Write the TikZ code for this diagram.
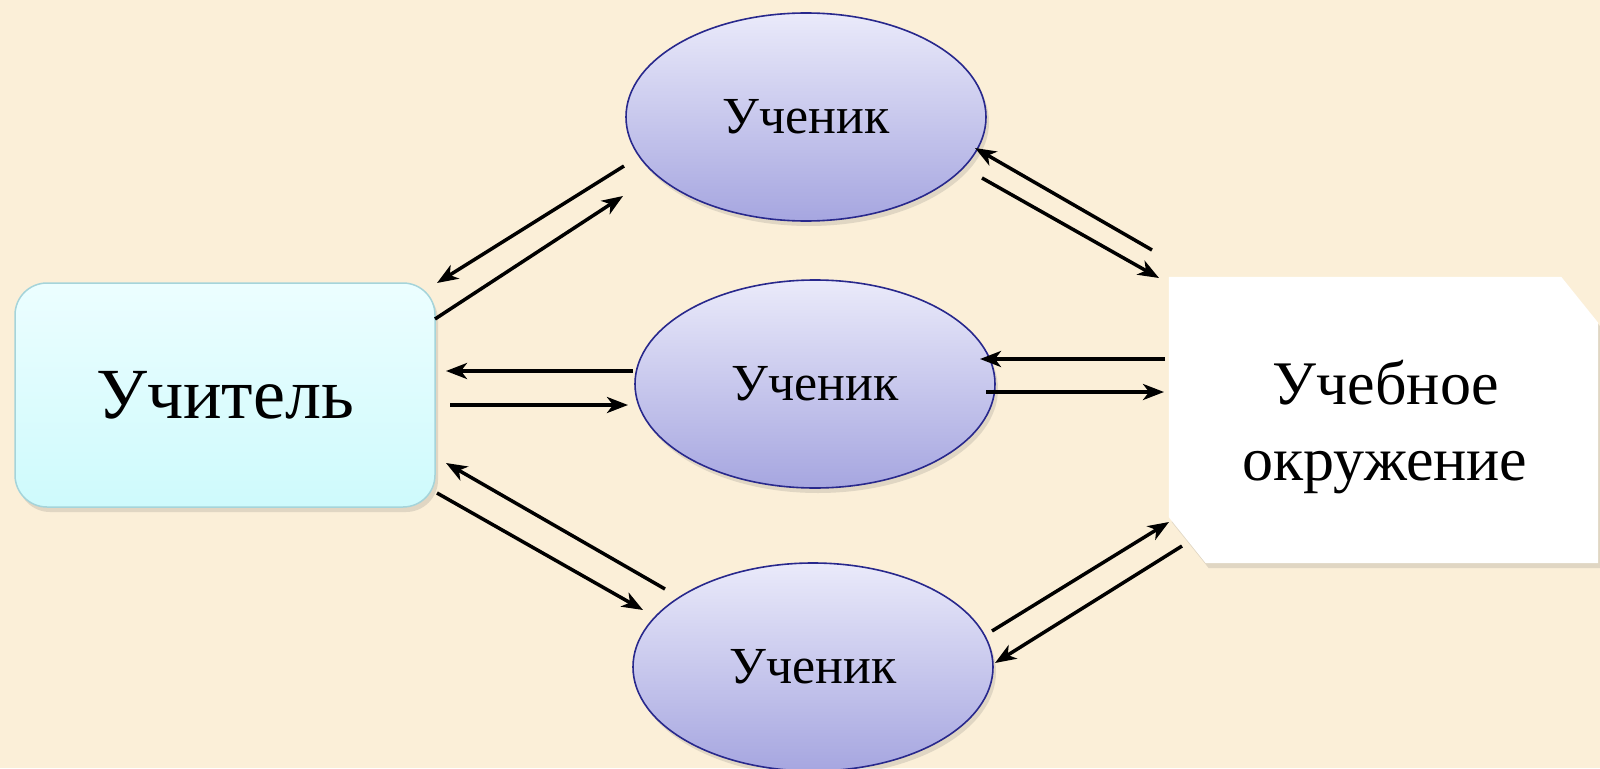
\documentclass[tikz,border=0pt]{standalone}
\usepackage{fontspec}
\setmainfont{Liberation Serif}
\usetikzlibrary{shapes.geometric,arrows.meta,shadows,calc}
\definecolor{bgc}{RGB}{251,239,216}
\definecolor{elltop}{RGB}{234,234,250}
\definecolor{ellbot}{RGB}{166,166,224}
\definecolor{elldraw}{RGB}{40,40,140}
\definecolor{tchtop}{RGB}{236,254,255}
\definecolor{tchbot}{RGB}{206,250,252}
\definecolor{tchdraw}{RGB}{165,212,218}
\begin{document}
\begin{tikzpicture}[x=1pt,y=-1pt,
  arr/.style={line width=3.5pt,-{Stealth[length=21pt,width=16pt,inset=6pt]}},
  softshadow/.style={drop shadow={opacity=0.18,shadow xshift=3pt,shadow yshift=-5pt,fill=black!60}},
  pupil/.style={ellipse,draw=elldraw,line width=1.6pt,minimum width=360pt,minimum height=208pt,
    inner sep=0pt,top color=elltop,bottom color=ellbot,softshadow,font=\fontsize{52}{60}\selectfont},
  teacher/.style={rectangle,rounded corners=32pt,draw=tchdraw,line width=1.5pt,minimum width=420pt,
    minimum height=224pt,top color=tchtop,bottom color=tchbot,softshadow,font=\fontsize{72}{80}\selectfont},
  envframe/.style={rectangle,minimum width=429pt,minimum height=286pt,inner sep=0pt},
  envtext/.style={anchor=base,font=\fontsize{62}{76}\selectfont,inner sep=0pt}
]
\fill[bgc] (0,0) rectangle (1600,768);
\useasboundingbox (0,0) rectangle (1600,768);

\node[teacher] (t) at (225,395) {Учитель};
\node[pupil] (p1) at (806,117) {Ученик};
\node[pupil] (p2) at (815,384) {Ученик};
\node[pupil] (p3) at (813,667) {Ученик};
\node[envframe] (e) at (1383.5,420) {};
\fill[white,softshadow] (e.north west) -- ($(e.north east)+(-37,0)$) -- ($(e.north east)+(0,46)$)
  -- (e.south east) -- ($(e.south west)+(37,0)$) -- ($(e.south west)+(0,-46)$) -- cycle;
\node[envtext] (e1) at (1386,404) {Учебное};
\node[envtext] (e2) at (1385,480) {окружение};

\coordinate (a1s) at (624,166);  \coordinate (a1e) at (437,283);
\coordinate (a2s) at (435,319);  \coordinate (a2e) at (623,196);
\coordinate (a3s) at (1152,250); \coordinate (a3e) at (975,148);
\coordinate (a4s) at (982,178);  \coordinate (a4e) at (1159,278);
\coordinate (a5s) at (633,371);  \coordinate (a5e) at (446,371);
\coordinate (a6s) at (450,405);  \coordinate (a6e) at (628,405);
\coordinate (a7s) at (1165,359); \coordinate (a7e) at (980,359);
\coordinate (a8s) at (986,392);  \coordinate (a8e) at (1164,392);
\coordinate (a9s) at (665,589);  \coordinate (a9e) at (446,463);
\coordinate (a10s) at (437,493); \coordinate (a10e) at (643,610);
\coordinate (a11s) at (992,631); \coordinate (a11e) at (1169,522);
\coordinate (a12s) at (1182,546);\coordinate (a12e) at (995,663);

\foreach \i in {1,...,12} {\draw[arr] (a\i s) -- (a\i e);}
\end{tikzpicture}
\end{document}
